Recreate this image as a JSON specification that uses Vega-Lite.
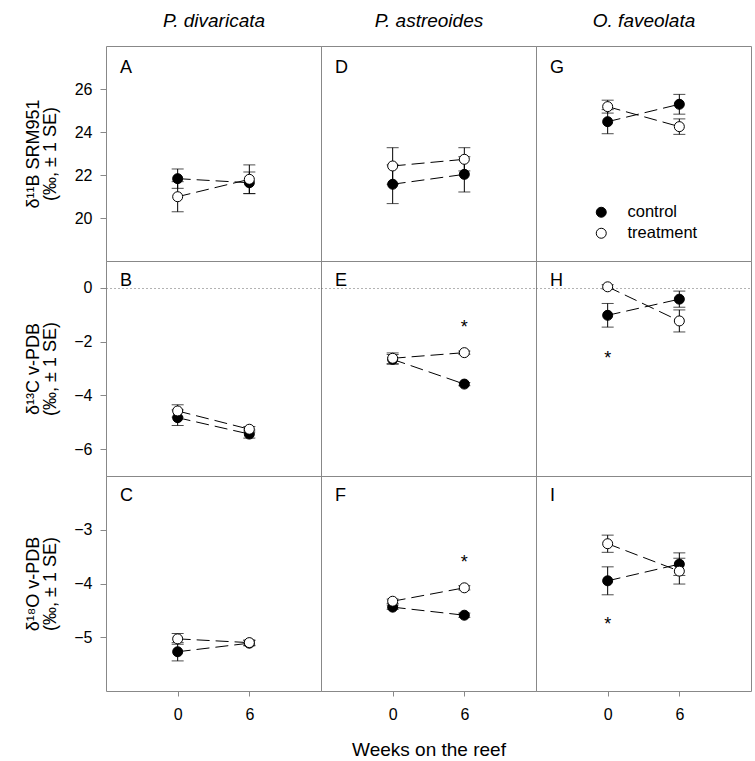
{
 "$schema": "https://vega.github.io/schema/vega-lite/v6.json",
 "background": "white",
 "padding": {"left": 23, "top": 10, "right": 4, "bottom": 0},
 "datasets": {
  "d": [
   {"panel": "A", "kind": "obs", "group": "control", "week": 0, "value": 21.83, "se": 0.45},
   {"panel": "A", "kind": "obs", "group": "control", "week": 6, "value": 21.64, "se": 0.5},
   {"panel": "A", "kind": "obs", "group": "treatment", "week": 0, "value": 20.99, "se": 0.7},
   {"panel": "A", "kind": "obs", "group": "treatment", "week": 6, "value": 21.8, "se": 0.67},
   {"panel": "D", "kind": "obs", "group": "control", "week": 0, "value": 21.57, "se": 0.9},
   {"panel": "D", "kind": "obs", "group": "control", "week": 6, "value": 22.03, "se": 0.82},
   {"panel": "D", "kind": "obs", "group": "treatment", "week": 0, "value": 22.42, "se": 0.85},
   {"panel": "D", "kind": "obs", "group": "treatment", "week": 6, "value": 22.73, "se": 0.54},
   {"panel": "G", "kind": "obs", "group": "control", "week": 0, "value": 24.48, "se": 0.56},
   {"panel": "G", "kind": "obs", "group": "control", "week": 6, "value": 25.29, "se": 0.46},
   {"panel": "G", "kind": "obs", "group": "treatment", "week": 0, "value": 25.18, "se": 0.3},
   {"panel": "G", "kind": "obs", "group": "treatment", "week": 6, "value": 24.25, "se": 0.36},
   {"panel": "B", "kind": "obs", "group": "control", "week": 0, "value": -4.83, "se": 0.29},
   {"panel": "B", "kind": "obs", "group": "control", "week": 6, "value": -5.44, "se": 0.15},
   {"panel": "B", "kind": "obs", "group": "treatment", "week": 0, "value": -4.58, "se": 0.23},
   {"panel": "B", "kind": "obs", "group": "treatment", "week": 6, "value": -5.26, "se": 0.1},
   {"panel": "E", "kind": "obs", "group": "control", "week": 0, "value": -2.66, "se": 0.18},
   {"panel": "E", "kind": "obs", "group": "control", "week": 6, "value": -3.58, "se": 0.06},
   {"panel": "E", "kind": "obs", "group": "treatment", "week": 0, "value": -2.62, "se": 0.2},
   {"panel": "E", "kind": "obs", "group": "treatment", "week": 6, "value": -2.41, "se": 0.06},
   {"panel": "H", "kind": "obs", "group": "control", "week": 0, "value": -1.02, "se": 0.44},
   {"panel": "H", "kind": "obs", "group": "control", "week": 6, "value": -0.42, "se": 0.3},
   {"panel": "H", "kind": "obs", "group": "treatment", "week": 0, "value": 0.04, "se": 0.08},
   {"panel": "H", "kind": "obs", "group": "treatment", "week": 6, "value": -1.23, "se": 0.41},
   {"panel": "C", "kind": "obs", "group": "control", "week": 0, "value": -5.27, "se": 0.17},
   {"panel": "C", "kind": "obs", "group": "control", "week": 6, "value": -5.11, "se": 0.05},
   {"panel": "C", "kind": "obs", "group": "treatment", "week": 0, "value": -5.03, "se": 0.1},
   {"panel": "C", "kind": "obs", "group": "treatment", "week": 6, "value": -5.1, "se": 0.05},
   {"panel": "F", "kind": "obs", "group": "control", "week": 0, "value": -4.44, "se": 0.04},
   {"panel": "F", "kind": "obs", "group": "control", "week": 6, "value": -4.59, "se": 0.04},
   {"panel": "F", "kind": "obs", "group": "treatment", "week": 0, "value": -4.33, "se": 0.04},
   {"panel": "F", "kind": "obs", "group": "treatment", "week": 6, "value": -4.08, "se": 0.04},
   {"panel": "I", "kind": "obs", "group": "control", "week": 0, "value": -3.95, "se": 0.26},
   {"panel": "I", "kind": "obs", "group": "control", "week": 6, "value": -3.64, "se": 0.21},
   {"panel": "I", "kind": "obs", "group": "treatment", "week": 0, "value": -3.26, "se": 0.16},
   {"panel": "I", "kind": "obs", "group": "treatment", "week": 6, "value": -3.77, "se": 0.24},
   {"panel": "E", "kind": "sig", "week": 6, "value": -1.29},
   {"panel": "H", "kind": "sig", "week": 0, "value": -2.47},
   {"panel": "F", "kind": "sig", "week": 6, "value": -3.52},
   {"panel": "I", "kind": "sig", "week": 0, "value": -4.67}
  ]
 },
 "columns": 3,
 "spacing": 0,
 "bounds": "flush",
 "align": "all",
 "concat": [
  {
   "width": 215, "height": 215,
   "data": {"name": "d"},
   "transform": [{"filter": "datum.panel === 'A'"}],
   "title": {"text": "A", "frame": "group", "anchor": "start", "offset": -80, "dx": 14, "baseline": "alphabetic"},
   "encoding": {
    "x": {"field": "week", "type": "quantitative", "scale": {"domain": [-6, 12], "nice": false},
          "axis": {"orient": "top", "title": "P. divaricata", "labels": false, "ticks": false, "domain": false, "titleFontStyle": "italic", "titleFontSize": 19, "titlePadding": 16}},
    "y": {"field": "value", "type": "quantitative", "scale": {"domain": [18, 28], "nice": false},
          "axis": {"values": [20, 22, 24, 26], "title": ["δ¹¹B SRM951", "(‰, ± 1 SE)"], "titlePadding": 15, "minExtent": 32, "maxExtent": 32, "tickSize": 6, "labelPadding": 8, "titleFontSize": 18, "titleLineHeight": 17}}
   },
   "layer": [
    {"transform": [{"filter": "datum.kind === 'obs'"}], "mark": {"type": "line", "color": "black", "strokeWidth": 1, "strokeDash": [13, 6]}, "encoding": {"detail": {"field": "group"}}},
    {"transform": [{"filter": "datum.kind === 'obs'"}], "mark": {"type": "errorbar", "ticks": true, "size": 12, "thickness": 1, "color": "black"}, "encoding": {"yError": {"field": "se"}}},
    {"transform": [{"filter": "datum.kind === 'obs'"}], "mark": {"type": "point", "shape": "circle", "filled": true, "size": 100, "stroke": "black", "strokeWidth": 1, "opacity": 1},
     "encoding": {"fill": {"field": "group", "type": "nominal", "scale": {"domain": ["control", "treatment"], "range": ["black", "white"]}, "legend": null}}}
   ]
  },
  {
   "width": 215, "height": 215,
   "data": {"name": "d"},
   "transform": [{"filter": "datum.panel === 'D'"}],
   "title": {"text": "D", "frame": "group", "anchor": "start", "offset": -80, "dx": 14, "baseline": "alphabetic"},
   "encoding": {
    "x": {"field": "week", "type": "quantitative", "scale": {"domain": [-6, 12], "nice": false},
          "axis": {"orient": "top", "title": "P. astreoides", "labels": false, "ticks": false, "domain": false, "titleFontStyle": "italic", "titleFontSize": 19, "titlePadding": 16}},
    "y": {"field": "value", "type": "quantitative", "scale": {"domain": [18, 28], "nice": false}, "axis": null}
   },
   "layer": [
    {"transform": [{"filter": "datum.kind === 'obs'"}], "mark": {"type": "line", "color": "black", "strokeWidth": 1, "strokeDash": [13, 6]}, "encoding": {"detail": {"field": "group"}}},
    {"transform": [{"filter": "datum.kind === 'obs'"}], "mark": {"type": "errorbar", "ticks": true, "size": 12, "thickness": 1, "color": "black"}, "encoding": {"yError": {"field": "se"}}},
    {"transform": [{"filter": "datum.kind === 'obs'"}], "mark": {"type": "point", "shape": "circle", "filled": true, "size": 100, "stroke": "black", "strokeWidth": 1, "opacity": 1},
     "encoding": {"fill": {"field": "group", "type": "nominal", "scale": {"domain": ["control", "treatment"], "range": ["black", "white"]}, "legend": null}}}
   ]
  },
  {
   "width": 215, "height": 215,
   "data": {"name": "d"},
   "transform": [{"filter": "datum.panel === 'G'"}],
   "title": {"text": "G", "frame": "group", "anchor": "start", "offset": -80, "dx": 14, "baseline": "alphabetic"},
   "encoding": {
    "x": {"field": "week", "type": "quantitative", "scale": {"domain": [-6, 12], "nice": false},
          "axis": {"orient": "top", "title": "O. faveolata", "labels": false, "ticks": false, "domain": false, "titleFontStyle": "italic", "titleFontSize": 19, "titlePadding": 16}},
    "y": {"field": "value", "type": "quantitative", "scale": {"domain": [18, 28], "nice": false}, "axis": null}
   },
   "layer": [
    {"transform": [{"filter": "datum.kind === 'obs'"}], "mark": {"type": "line", "color": "black", "strokeWidth": 1, "strokeDash": [13, 6]}, "encoding": {"detail": {"field": "group"}}},
    {"transform": [{"filter": "datum.kind === 'obs'"}], "mark": {"type": "errorbar", "ticks": true, "size": 12, "thickness": 1, "color": "black"}, "encoding": {"yError": {"field": "se"}}},
    {"transform": [{"filter": "datum.kind === 'obs'"}], "mark": {"type": "point", "shape": "circle", "filled": true, "size": 100, "stroke": "black", "strokeWidth": 1, "opacity": 1},
     "encoding": {"fill": {"field": "group", "type": "nominal", "scale": {"domain": ["control", "treatment"], "range": ["black", "white"]},
                           "legend": {"orient": "none", "legendX": 57, "legendY": 158, "title": null, "symbolType": "circle", "symbolSize": 100, "symbolStrokeColor": "black", "symbolStrokeWidth": 1, "labelFontSize": 16.5, "labelOffset": 18, "rowPadding": 4, "padding": 0}}}}
   ]
  },
  {
   "width": 215, "height": 215,
   "data": {"name": "d"},
   "transform": [{"filter": "datum.panel === 'B'"}],
   "title": {"text": "B", "frame": "group", "anchor": "start", "offset": -43, "dx": 14, "baseline": "alphabetic"},
   "encoding": {
    "x": {"field": "week", "type": "quantitative", "scale": {"domain": [-6, 12], "nice": false}, "axis": null},
    "y": {"field": "value", "type": "quantitative", "scale": {"domain": [-7, 1], "nice": false},
          "axis": {"values": [-6, -4, -2, 0], "title": ["δ¹³C v-PDB", "(‰, ± 1 SE)"], "titlePadding": 15, "minExtent": 32, "maxExtent": 32, "tickSize": 6, "labelPadding": 8, "titleFontSize": 18, "titleLineHeight": 17,
                   "grid": true, "gridColor": "#666", "gridDash": [1, 3], "gridOpacity": {"condition": {"test": "datum.value === 0", "value": 1}, "value": 0}}}
   },
   "layer": [
    {"transform": [{"filter": "datum.kind === 'obs'"}], "mark": {"type": "line", "color": "black", "strokeWidth": 1, "strokeDash": [13, 6]}, "encoding": {"detail": {"field": "group"}}},
    {"transform": [{"filter": "datum.kind === 'obs'"}], "mark": {"type": "errorbar", "ticks": true, "size": 12, "thickness": 1, "color": "black"}, "encoding": {"yError": {"field": "se"}}},
    {"transform": [{"filter": "datum.kind === 'obs'"}], "mark": {"type": "point", "shape": "circle", "filled": true, "size": 100, "stroke": "black", "strokeWidth": 1, "opacity": 1},
     "encoding": {"fill": {"field": "group", "type": "nominal", "scale": {"domain": ["control", "treatment"], "range": ["black", "white"]}, "legend": null}}}
   ]
  },
  {
   "width": 215, "height": 215,
   "data": {"name": "d"},
   "transform": [{"filter": "datum.panel === 'E'"}],
   "title": {"text": "E", "frame": "group", "anchor": "start", "offset": -43, "dx": 14, "baseline": "alphabetic"},
   "encoding": {
    "x": {"field": "week", "type": "quantitative", "scale": {"domain": [-6, 12], "nice": false}, "axis": null},
    "y": {"field": "value", "type": "quantitative", "scale": {"domain": [-7, 1], "nice": false},
          "axis": {"values": [0], "title": null, "labels": false, "ticks": false, "domain": false, "minExtent": 0, "maxExtent": 0, "grid": true, "gridColor": "#666", "gridDash": [1, 3]}}
   },
   "layer": [
    {"transform": [{"filter": "datum.kind === 'obs'"}], "mark": {"type": "line", "color": "black", "strokeWidth": 1, "strokeDash": [13, 6]}, "encoding": {"detail": {"field": "group"}}},
    {"transform": [{"filter": "datum.kind === 'obs'"}], "mark": {"type": "errorbar", "ticks": true, "size": 12, "thickness": 1, "color": "black"}, "encoding": {"yError": {"field": "se"}}},
    {"transform": [{"filter": "datum.kind === 'obs'"}], "mark": {"type": "point", "shape": "circle", "filled": true, "size": 100, "stroke": "black", "strokeWidth": 1, "opacity": 1},
     "encoding": {"fill": {"field": "group", "type": "nominal", "scale": {"domain": ["control", "treatment"], "range": ["black", "white"]}, "legend": null}}},
    {"transform": [{"filter": "datum.kind === 'sig'"}], "mark": {"type": "text", "text": "*", "fontSize": 18, "baseline": "middle", "dy": 5, "color": "black"}}
   ]
  },
  {
   "width": 215, "height": 215,
   "data": {"name": "d"},
   "transform": [{"filter": "datum.panel === 'H'"}],
   "title": {"text": "H", "frame": "group", "anchor": "start", "offset": -43, "dx": 14, "baseline": "alphabetic"},
   "encoding": {
    "x": {"field": "week", "type": "quantitative", "scale": {"domain": [-6, 12], "nice": false}, "axis": null},
    "y": {"field": "value", "type": "quantitative", "scale": {"domain": [-7, 1], "nice": false},
          "axis": {"values": [0], "title": null, "labels": false, "ticks": false, "domain": false, "minExtent": 0, "maxExtent": 0, "grid": true, "gridColor": "#666", "gridDash": [1, 3]}}
   },
   "layer": [
    {"transform": [{"filter": "datum.kind === 'obs'"}], "mark": {"type": "line", "color": "black", "strokeWidth": 1, "strokeDash": [13, 6]}, "encoding": {"detail": {"field": "group"}}},
    {"transform": [{"filter": "datum.kind === 'obs'"}], "mark": {"type": "errorbar", "ticks": true, "size": 12, "thickness": 1, "color": "black"}, "encoding": {"yError": {"field": "se"}}},
    {"transform": [{"filter": "datum.kind === 'obs'"}], "mark": {"type": "point", "shape": "circle", "filled": true, "size": 100, "stroke": "black", "strokeWidth": 1, "opacity": 1},
     "encoding": {"fill": {"field": "group", "type": "nominal", "scale": {"domain": ["control", "treatment"], "range": ["black", "white"]}, "legend": null}}},
    {"transform": [{"filter": "datum.kind === 'sig'"}], "mark": {"type": "text", "text": "*", "fontSize": 18, "baseline": "middle", "dy": 5, "color": "black"}}
   ]
  },
  {
   "width": 215, "height": 215,
   "data": {"name": "d"},
   "transform": [{"filter": "datum.panel === 'C'"}],
   "title": {"text": "C", "frame": "group", "anchor": "start", "offset": -43, "dx": 14, "baseline": "alphabetic"},
   "encoding": {
    "x": {"field": "week", "type": "quantitative", "scale": {"domain": [-6, 12], "nice": false},
          "axis": {"values": [0, 6], "title": null, "tickSize": 5, "labelPadding": 10}},
    "y": {"field": "value", "type": "quantitative", "scale": {"domain": [-6, -2], "nice": false},
          "axis": {"values": [-5, -4, -3], "title": ["δ¹⁸O v-PDB", "(‰, ± 1 SE)"], "titlePadding": 15, "minExtent": 32, "maxExtent": 32, "tickSize": 6, "labelPadding": 8, "titleFontSize": 18, "titleLineHeight": 17}}
   },
   "layer": [
    {"transform": [{"filter": "datum.kind === 'obs'"}], "mark": {"type": "line", "color": "black", "strokeWidth": 1, "strokeDash": [13, 6]}, "encoding": {"detail": {"field": "group"}}},
    {"transform": [{"filter": "datum.kind === 'obs'"}], "mark": {"type": "errorbar", "ticks": true, "size": 12, "thickness": 1, "color": "black"}, "encoding": {"yError": {"field": "se"}}},
    {"transform": [{"filter": "datum.kind === 'obs'"}], "mark": {"type": "point", "shape": "circle", "filled": true, "size": 100, "stroke": "black", "strokeWidth": 1, "opacity": 1},
     "encoding": {"fill": {"field": "group", "type": "nominal", "scale": {"domain": ["control", "treatment"], "range": ["black", "white"]}, "legend": null}}}
   ]
  },
  {
   "width": 215, "height": 215,
   "data": {"name": "d"},
   "transform": [{"filter": "datum.panel === 'F'"}],
   "title": {"text": "F", "frame": "group", "anchor": "start", "offset": -43, "dx": 14, "baseline": "alphabetic"},
   "encoding": {
    "x": {"field": "week", "type": "quantitative", "scale": {"domain": [-6, 12], "nice": false},
          "axis": {"values": [0, 6], "title": "Weeks on the reef", "titleFontSize": 19, "titlePadding": 18, "tickSize": 5, "labelPadding": 10}},
    "y": {"field": "value", "type": "quantitative", "scale": {"domain": [-6, -2], "nice": false}, "axis": null}
   },
   "layer": [
    {"transform": [{"filter": "datum.kind === 'obs'"}], "mark": {"type": "line", "color": "black", "strokeWidth": 1, "strokeDash": [13, 6]}, "encoding": {"detail": {"field": "group"}}},
    {"transform": [{"filter": "datum.kind === 'obs'"}], "mark": {"type": "errorbar", "ticks": true, "size": 12, "thickness": 1, "color": "black"}, "encoding": {"yError": {"field": "se"}}},
    {"transform": [{"filter": "datum.kind === 'obs'"}], "mark": {"type": "point", "shape": "circle", "filled": true, "size": 100, "stroke": "black", "strokeWidth": 1, "opacity": 1},
     "encoding": {"fill": {"field": "group", "type": "nominal", "scale": {"domain": ["control", "treatment"], "range": ["black", "white"]}, "legend": null}}},
    {"transform": [{"filter": "datum.kind === 'sig'"}], "mark": {"type": "text", "text": "*", "fontSize": 18, "baseline": "middle", "dy": 5, "color": "black"}}
   ]
  },
  {
   "width": 215, "height": 215,
   "data": {"name": "d"},
   "transform": [{"filter": "datum.panel === 'I'"}],
   "title": {"text": "I", "frame": "group", "anchor": "start", "offset": -43, "dx": 14, "baseline": "alphabetic"},
   "encoding": {
    "x": {"field": "week", "type": "quantitative", "scale": {"domain": [-6, 12], "nice": false},
          "axis": {"values": [0, 6], "title": null, "tickSize": 5, "labelPadding": 10}},
    "y": {"field": "value", "type": "quantitative", "scale": {"domain": [-6, -2], "nice": false}, "axis": null}
   },
   "layer": [
    {"transform": [{"filter": "datum.kind === 'obs'"}], "mark": {"type": "line", "color": "black", "strokeWidth": 1, "strokeDash": [13, 6]}, "encoding": {"detail": {"field": "group"}}},
    {"transform": [{"filter": "datum.kind === 'obs'"}], "mark": {"type": "errorbar", "ticks": true, "size": 12, "thickness": 1, "color": "black"}, "encoding": {"yError": {"field": "se"}}},
    {"transform": [{"filter": "datum.kind === 'obs'"}], "mark": {"type": "point", "shape": "circle", "filled": true, "size": 100, "stroke": "black", "strokeWidth": 1, "opacity": 1},
     "encoding": {"fill": {"field": "group", "type": "nominal", "scale": {"domain": ["control", "treatment"], "range": ["black", "white"]}, "legend": null}}},
    {"transform": [{"filter": "datum.kind === 'sig'"}], "mark": {"type": "text", "text": "*", "fontSize": 18, "baseline": "middle", "dy": 5, "color": "black"}}
   ]
  }
 ],
 "resolve": {
  "scale": {"x": "independent", "y": "independent", "fill": "independent"},
  "axis": {"x": "independent", "y": "independent"},
  "legend": {"fill": "independent"}
 },
 "config": {
  "font": "Liberation Sans",
  "view": {"stroke": "#888", "strokeWidth": 1},
  "axis": {"grid": false, "domain": false, "tickColor": "#888", "labelColor": "black", "labelFontSize": 16, "titleColor": "black", "titleFontWeight": "normal", "labelFont": "Liberation Sans", "titleFont": "Liberation Sans"},
  "title": {"fontSize": 18, "fontWeight": "normal", "font": "Liberation Sans", "color": "black"},
  "legend": {"labelFont": "Liberation Sans", "labelColor": "black"}
 }
}
